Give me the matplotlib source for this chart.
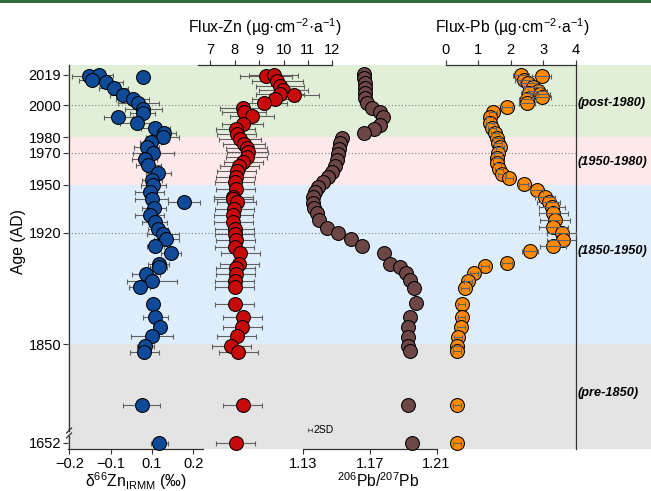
import numpy as np
import matplotlib
matplotlib.use('Agg')
import matplotlib.pyplot as plt
from matplotlib.lines import Line2D
from matplotlib.patches import Rectangle

plt.rcParams['font.family'] = ['Liberation Sans', 'DejaVu Sans']
plt.rcParams['mathtext.fontset'] = 'custom'
plt.rcParams['mathtext.rm'] = 'Liberation Sans'
plt.rcParams['mathtext.it'] = 'Liberation Sans:italic'
plt.rcParams['mathtext.bf'] = 'Liberation Sans:bold'

# ---------------- data ----------------
ages_d66 = [2018.4, 2019.0, 2017.6, 2015.9, 2014.4, 2010.6, 2006.4, 2003.7, 2001.2, 1997.5,
            1994.9, 1992.8, 1988.7, 1985.9, 1982.4, 1980.2, 1977.1, 1974.0, 1970.2, 1966.0,
            1962.5, 1957.3, 1953.0, 1949.9, 1945.7, 1940.9, 1939.4, 1935.3, 1931.1, 1926.9,
            1922.1, 1919.0, 1915.8, 1911.6, 1907.4, 1900.3, 1898.6, 1894.0, 1889.8, 1885.6,
            1875.2, 1866.8, 1860.9, 1855.1, 1849.0, 1845.2, 1811.7, 1652]
d66zn = [-0.052, -0.029, 0.078, -0.046, -0.011, 0.007, 0.029, 0.053, 0.067, 0.079,
         0.078, 0.018, 0.063, 0.108, 0.128, 0.126, 0.097, 0.087, 0.103, 0.082,
         0.091, 0.115, 0.100, 0.103, 0.095, 0.100, 0.178, 0.105, 0.095, 0.107,
         0.115, 0.127, 0.135, 0.108, 0.147, 0.116, 0.116, 0.086, 0.100, 0.070,
         0.103, 0.108, 0.119, 0.100, 0.084, 0.081, 0.075, 0.118]
d66zn_err = [0.042, 0.035, 0.015, 0.030, 0.040, 0.035, 0.030, 0.040, 0.050, 0.045,
             0.030, 0.035, 0.040, 0.035, 0.030, 0.040, 0.025, 0.030, 0.050, 0.030,
             0.030, 0.030, 0.025, 0.030, 0.035, 0.040, 0.038, 0.030, 0.035, 0.030,
             0.025, 0.038, 0.030, 0.020, 0.024, 0.026, 0.020, 0.034, 0.060, 0.025,
             0.015, 0.030, 0.015, 0.050, 0.020, 0.035, 0.045, 0.020]

ages_fzn = [2018.4, 2019.2, 2015.0, 2012.1, 2009.4, 2007.3, 2006.2, 2003.7, 2001.6, 1998.3,
            1995.8, 1993.2, 1988.4, 1985.3, 1982.1, 1979.0, 1975.8, 1973.1, 1970.6, 1967.5,
            1964.4, 1961.8, 1958.5, 1954.9, 1951.8, 1947.6, 1942.4, 1941.1, 1939.0, 1934.8,
            1931.1, 1926.9, 1922.3, 1919.0, 1915.4, 1911.2, 1907.0, 1900.1, 1898.0, 1894.0,
            1889.6, 1885.6, 1875.2, 1867.2, 1860.9, 1855.1, 1849.0, 1845.2, 1811.7, 1652]
flux_zn = [9.28, 9.60, 9.74, 9.85, 9.99, 9.85, 10.44, 9.65, 9.19, 8.34,
           8.37, 8.69, 8.32, 8.04, 8.07, 8.21, 8.37, 8.48, 8.52, 8.48,
           8.34, 8.18, 8.07, 8.04, 8.00, 8.04, 7.93, 7.93, 8.07, 7.97,
           7.93, 7.93, 8.00, 8.00, 8.04, 8.00, 8.23, 8.18, 8.04, 8.04,
           8.00, 8.00, 8.00, 8.32, 8.30, 8.07, 7.86, 8.14, 8.32, 8.04]
flux_zn_err = [1.05, 1.00, 1.05, 1.00, 1.00, 1.00, 1.00, 0.95, 0.95, 0.95,
               0.90, 0.90, 0.85, 0.80, 0.80, 0.85, 0.85, 0.85, 0.85, 0.85,
               0.80, 0.80, 0.80, 0.80, 0.80, 0.80, 0.80, 0.80, 0.80, 0.80,
               0.80, 0.80, 0.80, 0.80, 0.80, 0.80, 0.80, 0.80, 0.80, 0.80,
               0.80, 0.80, 0.80, 0.80, 0.80, 0.80, 0.80, 0.80, 0.80, 0.80]

ages_pb = [2019.6, 2016.9, 2013.8, 2010.6, 2007.5, 2004.4, 2001.2, 1998.1, 1996.0, 1992.8,
           1987.6, 1984.9, 1982.8, 1979.6, 1976.1, 1972.5, 1969.2, 1965.6, 1961.8, 1958.3,
           1955.1, 1952.0, 1948.8, 1945.7, 1942.2, 1938.4, 1935.3, 1932.1, 1927.9, 1922.7,
           1919.6, 1915.8, 1911.6, 1907.0, 1900.3, 1898.6, 1894.4, 1890.2, 1885.4, 1875.6,
           1866.8, 1860.5, 1854.6, 1848.8, 1845.6, 1811.7, 1652]
pb206_207 = [1.1664, 1.1668, 1.1674, 1.1674, 1.1674, 1.1674, 1.1684, 1.1714, 1.1764, 1.1780,
             1.1760, 1.1724, 1.1664, 1.1534, 1.1524, 1.1520, 1.1514, 1.1504, 1.1494, 1.1474,
             1.1454, 1.1424, 1.1394, 1.1374, 1.1364, 1.1364, 1.1368, 1.1384, 1.1400, 1.1444,
             1.1514, 1.1588, 1.1654, 1.1784, 1.1824, 1.1880, 1.1920, 1.1944, 1.1964, 1.1980,
             1.1940, 1.1927, 1.1927, 1.1927, 1.1944, 1.1927, 1.1954]

ages_fpb = [2019.0, 2018.4, 2015.9, 2013.8, 2011.3, 2009.1, 2007.5, 2007.1, 2005.4, 2003.7,
            2001.2, 1998.7, 1996.0, 1992.4, 1988.7, 1985.5, 1982.4, 1979.2, 1976.5, 1974.0,
            1969.8, 1966.7, 1963.5, 1959.8, 1956.8, 1954.1, 1950.5, 1946.8, 1942.6, 1939.4,
            1936.3, 1932.1, 1927.9, 1923.7, 1919.6, 1915.4, 1911.6, 1908.4, 1900.7, 1899.0,
            1894.4, 1889.8, 1885.0, 1875.2, 1866.8, 1860.5, 1854.6, 1848.8, 1845.6, 1811.7, 1652]
flux_pb = [2.31, 2.96, 2.40, 2.55, 2.70, 2.83, 2.58, 2.91, 2.96, 2.52,
           2.50, 1.88, 1.45, 1.35, 1.37, 1.42, 1.52, 1.57, 1.62, 1.68,
           1.62, 1.59, 1.59, 1.65, 1.73, 1.96, 2.40, 2.81, 3.06, 3.17,
           3.27, 3.32, 3.37, 3.32, 3.58, 3.63, 3.31, 2.59, 1.88, 1.21,
           0.87, 0.68, 0.60, 0.49, 0.49, 0.47, 0.39, 0.34, 0.34, 0.34, 0.34]
flux_pb_err = [0.25, 0.30, 0.25, 0.25, 0.30, 0.30, 0.25, 0.30, 0.30, 0.25,
               0.25, 0.15, 0.12, 0.12, 0.12, 0.12, 0.12, 0.12, 0.12, 0.12,
               0.12, 0.12, 0.12, 0.12, 0.12, 0.12, 0.15, 0.20, 0.30, 0.35,
               0.40, 0.45, 0.45, 0.45, 0.45, 0.50, 0.40, 0.25, 0.15, 0.12,
               0.12, 0.12, 0.12, 0.12, 0.12, 0.12, 0.12, 0.12, 0.12, 0.12, 0.12]

age_ticks = [2019, 2000, 1980, 1970, 1950, 1920, 1850, 1652]
dotted_years = [2000, 1970, 1920]
period_bounds = [(1980, None), (1950, 1980), (1850, 1950), (None, 1850)]
period_labels = ['(post-1980)', '(1950-1980)', '(1850-1950)', '(pre-1850)']
period_label_y = [2001.4, 1964.4, 1908.4, 1819.3]
period_colors = ['#e2efd8', '#fde9e9', '#ddedfb', '#e4e4e4']

# ---------------- layout helpers ----------------
W, H = 651, 491
fig = plt.figure(figsize=(W / 100, H / 100), dpi=100)

Y_TOP, Y_BOT = 65, 449


def rect(x0, x1, y0=Y_TOP, y1=Y_BOT):
    return [x0 / W, 1 - y1 / H, (x1 - x0) / W, (y1 - y0) / H]


BREAK_POS = 1788.0


def to_pos(years):
    a = np.asarray(years, float)
    return np.where(a < 1700, BREAK_POS, a)


YLIM = (1784.05, 2025.28)
SPINE_C = '#333333'
TICK_FS = 10.5
LABEL_FS = 11.3

# top dark-green strip
fig.patches.append(Rectangle((0, 1 - 3 / H), 1, 3 / H, transform=fig.transFigure,
                             color='#2d6c3d', lw=0))

# ---------------- base axis (age, bands) ----------------
axb = fig.add_axes(rect(68, 651))
axb.set_xlim(0, 1)
axb.set_ylim(*YLIM)
for (lo, hi), c in zip(period_bounds, period_colors):
    lo = YLIM[0] if lo is None else lo
    hi = YLIM[1] if hi is None else hi
    axb.axhspan(lo, hi, color=c, lw=0, zorder=0)
xr = (576 - 68) / (651 - 68)
for yv in dotted_years:
    axb.axhline(yv, xmin=0, xmax=xr, color='#808080', lw=0.8, ls=(0, (1, 2)), zorder=1)
for s in axb.spines.values():
    s.set_visible(False)
axb.set_xticks([])
axb.set_yticks(to_pos(age_ticks))
axb.set_yticklabels([str(a) for a in age_ticks])
axb.tick_params(axis='y', direction='out', length=3.5, width=0.8, labelsize=TICK_FS,
                pad=1.5, color=SPINE_C)
axb.set_ylabel('Age (AD)', fontsize=LABEL_FS)
axb.yaxis.set_label_coords((18 - 68) / 583, (Y_BOT - 242) / 384)
axb.yaxis.label.set_verticalalignment('center')
for lab, yv in zip(period_labels, period_label_y):
    axb.text(0.874, yv, lab, transform=axb.get_yaxis_transform(), fontsize=9.2,
             fontstyle='italic', fontweight='bold', va='center', ha='left')

# left spine with break marks (figure-pixel decorations)
def fline(xs, ys, **kw):
    fig.add_artist(Line2D([x / W for x in xs], [1 - y / H for y in ys],
                          transform=fig.transFigure, color=SPINE_C, lw=0.9, **kw))

fline([68.5, 68.5], [Y_TOP, 430.5])
fline([68.5, 68.5], [435.5, Y_BOT])
fline([66.5, 71.5], [433.0, 428.0])
fline([66.5, 71.5], [438.0, 433.0])


# ---------------- panels ----------------
def panel(x0, x1, xlim, side):
    ax = fig.add_axes(rect(x0, x1))
    ax.set_xlim(*xlim)
    ax.set_ylim(*YLIM)
    ax.patch.set_visible(False)
    for s in ax.spines.values():
        s.set_visible(False)
    ax.spines[side].set_visible(True)
    ax.spines[side].set_color(SPINE_C)
    ax.spines[side].set_linewidth(0.9)
    ax.set_yticks([])
    ax.xaxis.set_ticks_position(side)
    ax.xaxis.set_label_position(side)
    ax.tick_params(axis='x', direction='out', length=3.5, width=0.8, labelsize=TICK_FS,
                   pad=2.5, color=SPINE_C)
    return ax


EB = dict(fmt='none', ecolor='#606060', elinewidth=0.8, capsize=1.8, capthick=0.8)
MS = 100
MEW = 0.75

# delta66Zn
ax1 = panel(68, 203, (-0.1031, 0.2235), 'bottom')
ax1.set_xticks([-0.1, 0.0, 0.1, 0.2])
ax1.set_xticklabels(['\u22120.2', '\u22120.1', '0.1', '0.2'])
ax1.errorbar(d66zn, to_pos(ages_d66), xerr=d66zn_err, zorder=2, **EB)
ax1.scatter(d66zn, to_pos(ages_d66), s=MS, c='#0f4b98', edgecolors='black',
            linewidths=MEW, zorder=3, clip_on=False)
ax1.set_xlabel('\u03b4$^{66}$Zn$_{\\mathrm{IRMM}}$ (\u2030)', fontsize=LABEL_FS)
ax1.xaxis.set_label_coords(0.5, (Y_BOT - 481) / 384)
ax1.xaxis.label.set_verticalalignment('center')

# Flux-Zn
ax2 = panel(198.3, 332.3, (6.5, 12), 'top')
ax2.set_xticks([7, 8, 9, 10, 11, 12])
ax2.errorbar(flux_zn, to_pos(ages_fzn), xerr=flux_zn_err, zorder=2, **EB)
ax2.scatter(flux_zn, to_pos(ages_fzn), s=MS, c='#c80a0a', edgecolors='black',
            linewidths=MEW, zorder=3, clip_on=False)
ax2.set_xlabel('Flux-Zn (\u00b5g\u00b7cm$^{-2}$\u00b7a$^{-1}$)', fontsize=LABEL_FS)
ax2.xaxis.set_label_coords(0.5, (Y_BOT - 27) / 384)
ax2.xaxis.label.set_verticalalignment('center')

# 206Pb/207Pb
ax3 = panel(302.7, 436.5, (1.13, 1.21), 'bottom')
ax3.set_xticks([1.13, 1.17, 1.21])
ax3.set_xticklabels(['1.13', '1.17', '1.21'])
ax3.scatter(pb206_207, to_pos(ages_pb), s=MS, c='#6e4646', edgecolors='black',
            linewidths=MEW, zorder=3, clip_on=False)
ax3.errorbar([1.1344], [1796.0], xerr=[0.0012], zorder=2,
             **{**EB, 'capsize': 1.2})
ax3.text(1.1362, 1796.0, '2SD', fontsize=7.5, va='center', ha='left')
ax3.set_xlabel('$^{206}$Pb/$^{207}$Pb', fontsize=LABEL_FS)
ax3.xaxis.set_label_coords(0.56, (Y_BOT - 481) / 384)
ax3.xaxis.label.set_verticalalignment('center')

# Flux-Pb
ax4 = panel(445.7, 575.5, (0, 4), 'top')
ax4.spines['right'].set_visible(True)
ax4.spines['right'].set_color(SPINE_C)
ax4.spines['right'].set_linewidth(0.9)
ax4.set_xticks([0, 1, 2, 3, 4])
ax4.scatter(flux_pb, to_pos(ages_fpb), s=MS, c='#ff8a00', edgecolors='black',
            linewidths=MEW, zorder=3, clip_on=False)
ax4.errorbar(flux_pb, to_pos(ages_fpb), xerr=flux_pb_err, zorder=4, **EB)
ax4.set_xlabel('Flux-Pb (\u00b5g\u00b7cm$^{-2}$\u00b7a$^{-1}$)', fontsize=LABEL_FS)
ax4.xaxis.set_label_coords(0.511, (Y_BOT - 27) / 384)
ax4.xaxis.label.set_verticalalignment('center')

fig.savefig('out.png', dpi=100)
